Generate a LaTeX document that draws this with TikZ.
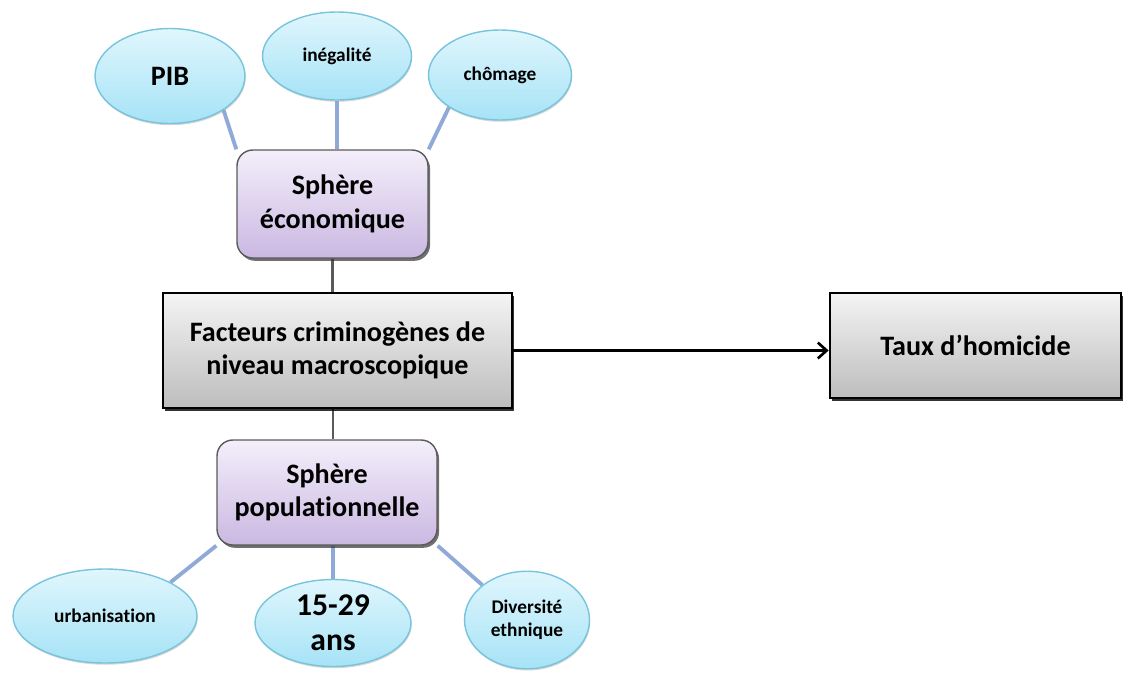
\documentclass[tikz,border=0pt]{standalone}
\usepackage{fontspec}
\setmainfont{Carlito}[Ligatures=NoCommon]
\usetikzlibrary{positioning, arrows.meta, shapes.geometric, shadows, backgrounds}

\definecolor{bulleHaut}{HTML}{E0F6FD}
\definecolor{bulleBas}{HTML}{A6E3F6}
\definecolor{bulleBord}{HTML}{78C4DC}
\definecolor{lienBleu}{HTML}{8FAAD8}
\definecolor{mauveHaut}{HTML}{F3EFFA}
\definecolor{mauveBas}{HTML}{CBB8E2}
\definecolor{grisHaut}{HTML}{F4F4F4}
\definecolor{grisBas}{HTML}{BDBDBD}
\definecolor{traitGris}{HTML}{5A5A5A}

\begin{document}
\begin{tikzpicture}[x=0.02cm, y=-0.02cm,
		bulle/.style = {ellipse, draw=bulleBord, thick,
			top color=bulleHaut, bottom color=bulleBas,
			drop shadow={shadow xshift=0.4pt, shadow yshift=-1pt, fill=black!40, opacity=0.4},
			inner sep=0pt, align=center, font=\bfseries\fontsize{11}{13}\selectfont},
		sphere/.style = {rectangle, rounded corners=9pt, draw=traitGris, thick,
			top color=mauveHaut, bottom color=mauveBas, align=center,
			drop shadow={shadow xshift=1.2pt, shadow yshift=-1.6pt, fill=black!80, opacity=0.7},
			font=\bfseries\fontsize{16}{19}\selectfont},
		facteur/.style = {rectangle, draw=black, line width=1.6pt,
			top color=grisHaut, bottom color=grisBas, align=center,
			drop shadow={shadow xshift=1.2pt, shadow yshift=-1.6pt, fill=black, opacity=0.8},
			font=\bfseries\fontsize{16}{19}\selectfont},
		lien/.style = {draw=lienBleu, line width=2.2pt},
		trait/.style = {draw=traitGris, line width=1.3pt}
	]
	\useasboundingbox (0,0) rectangle (1127,673);

	% boxes
	\node(main) [facteur, minimum width=6.98cm, minimum height=2.3cm] at (337.5,350.5)
		{Facteurs criminogènes de\\niveau macroscopique};
	\node(taux) [facteur, minimum width=5.82cm, minimum height=2.1cm] at (975.5,345.5)
		{Taux d’homicide};
	\node(eco) [sphere, minimum width=3.82cm, minimum height=2.16cm] at (332.5,204)
		{Sphère\\économique};
	\node(pop) [sphere, minimum width=4.4cm, minimum height=2.1cm] at (327,492.5)
		{Sphère\\populationnelle};

	% bubbles
	\node(pib)  [bulle, minimum width=3cm, minimum height=1.9cm, font=\bfseries\fontsize{16}{19}\selectfont] at (170,76) {PIB};
	\node(ineg) [bulle, minimum width=2.98cm, minimum height=1.76cm] at (337,56) {inégalité};
	\node(cho)  [bulle, minimum width=2.86cm, minimum height=1.8cm] at (500,75) {chômage};
	\node(urb)  [bulle, minimum width=3.68cm, minimum height=1.88cm] at (105,616) {urbanisation};
	\node(ans)  [bulle, minimum width=3.12cm, minimum height=1.74cm, font=\bfseries\fontsize{18}{20}\selectfont] at (333,623) {15-29\\ans};
	\node(div)  [bulle, minimum width=2.5cm, minimum height=1.95cm] at (527,620) {Diversité\\ethnique};

	\begin{scope}[on background layer]
		\path   (pib.south east) edge[lien] (eco.north west)
			(ineg.south) edge[lien] (ineg.south |- eco.north)
			(cho.south west) edge[lien] (eco.north east)
			(urb.north east) edge[lien] (pop.south west)
			(ans.north) edge[lien] (ans.north |- pop.south)
			(div.north west) edge[lien] (pop.south east)
			(eco.south) edge[trait] (eco.south |- main.north)
			(ans.north |- main.south) edge[trait] (ans.north |- pop.north);
	\end{scope}

	\draw[line width=1.5pt, -{Straight Barb[length=5pt, width=9pt]}] (main.east) -- (main.east -| taux.west);
\end{tikzpicture}
\end{document}
